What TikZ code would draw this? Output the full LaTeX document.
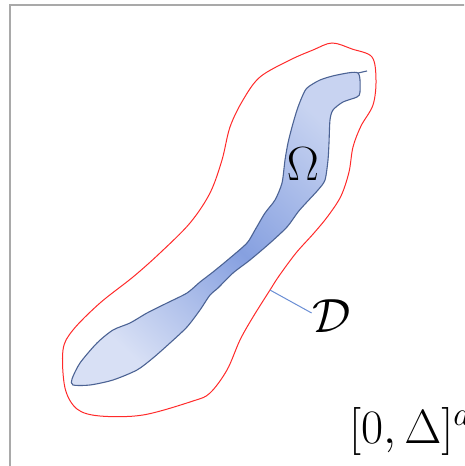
\RequirePackage{fix-cm}
\documentclass[tikz,border=0pt]{standalone}
\usepackage{amsmath,amssymb}
\usetikzlibrary{positioning}
\definecolor{boxgray}{HTML}{A9A9A9}
\definecolor{domred}{HTML}{FF2A2A}
\definecolor{omedge}{HTML}{4C6394}
\definecolor{omlight}{HTML}{D8E0F5}
\definecolor{omdark}{HTML}{86A0E0}
\definecolor{tagblue}{HTML}{6A8ED4}
\tikzset{
  bigmath/.style={inner sep=1pt,font=\fontsize{48}{57}\selectfont},
}

\begin{document}
\begin{tikzpicture}[x=1pt,y=-1pt]
    \useasboundingbox (0,0) rectangle (464,466);
    \clip (0,0) rectangle (464,466);
    % the cube [0,Delta]^d, only its corner is seen
    \draw[boxgray,line width=2pt] (10,480) -- (10,4.5) -- (480,4.5);
    % outer domain D
    \draw[domred,line width=1pt] plot[smooth cycle,tension=0.55] coordinates {
      (332,43) (352,49) (372,57) (376,80) (373,105) (361,126) (353,147)
      (349,172) (341,196) (328,216) (314,233) (296,253) (279,276) (270,290)
      (253,317) (240,340) (227,370) (210,393) (193,401) (143,415) (100,416)
      (77,409) (65,388) (63,350) (73,330) (100,303) (133,277) (160,253)
      (190,223) (210,193) (222,160) (230,127) (243,100) (260,77) (290,60)
      (313,50)};
    % inner set Omega
    \draw[omedge,line width=1.1pt,left color=omlight,
          right color=omlight!80!omdark,middle color=omdark,shading angle=137]
      plot[smooth cycle,tension=0.45] coordinates {
      (358,73) (360,92) (357,97) (343,102) (333,110) (330,120) (329,143)
      (328,160) (325,180) (318,190) (306,203) (298,212) (287,227) (270,243)
      (250,260) (233,273) (218,288) (210,295) (200,310) (187,327) (170,343)
      (153,358) (137,370) (113,380) (90,385) (73,385) (72,379) (80,363)
      (97,343) (113,330) (130,323) (147,313) (167,303) (187,293) (200,282)
      (213,272) (230,258) (247,243) (255,230) (265,213) (275,200) (282,183)
      (285,160) (288,143) (292,127) (297,110) (302,97) (307,88) (320,80)
      (337,75)};
    \coordinate (omtip) at (358,73);
    \coordinate (omend) at (367,71);
    \draw[omedge,line width=1.1pt] (omtip) -- (omend);
    % labels
    \node[bigmath] (omega) at (303,164) {$\Omega$};
    \coordinate (dpt) at (270,290);
    \node[bigmath] (calD) at (332,316) {$\mathcal{D}$};
    \draw[tagblue,line width=1pt] (dpt) -- ([yshift=3pt]calD.west);
    \node[bigmath,anchor=base west,inner sep=0pt] (cube) at (349,443) {$[0,\Delta]^d$};
\end{tikzpicture}
\end{document}
